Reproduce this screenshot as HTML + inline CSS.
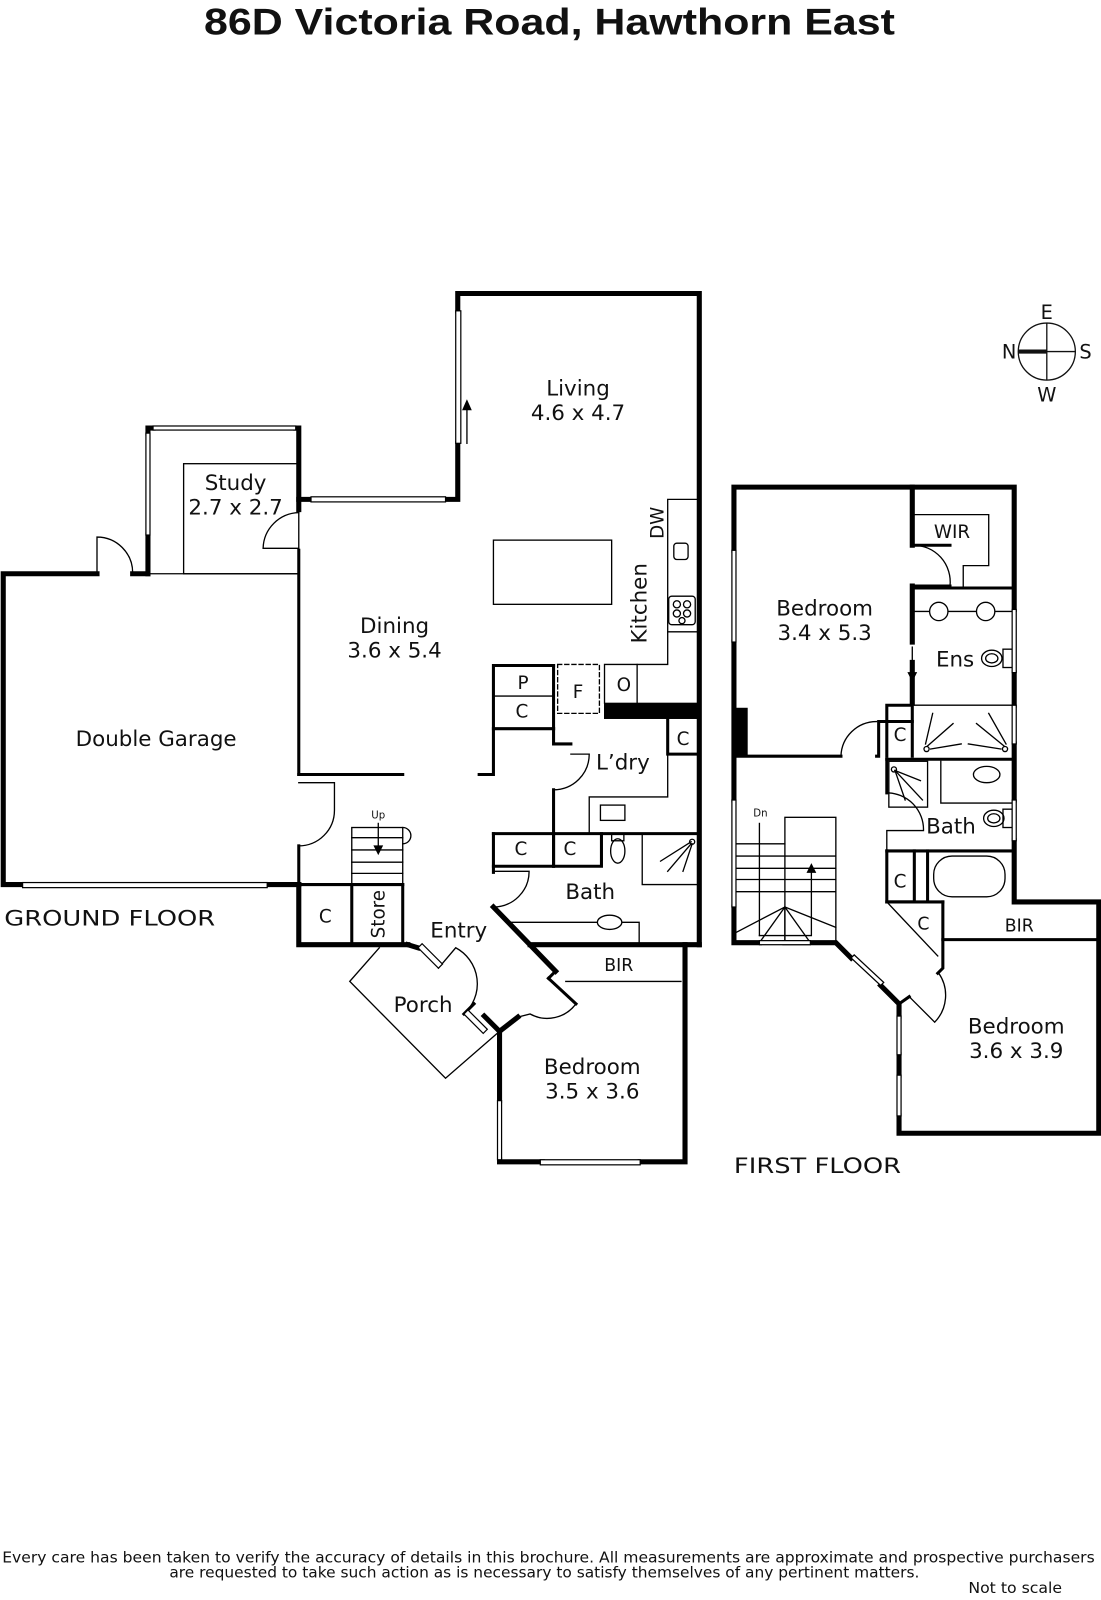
<!DOCTYPE html>
<html><head><meta charset="utf-8"><style>
html,body{margin:0;padding:0;background:#fff;}
svg{display:block;}
text{font-family:"DejaVu Sans","Liberation Sans",sans-serif;fill:#111;}
</style></head><body>
<svg width="1101" height="1600" viewBox="0 0 1080 1570" xmlns="http://www.w3.org/2000/svg">
<text x="539" y="34" font-size="36" font-weight="bold" text-anchor="middle" textLength="678" lengthAdjust="spacingAndGlyphs" style="font-family:'Liberation Sans',sans-serif">86D Victoria Road, Hawthorn East</text>

<g stroke="#111" fill="none" stroke-width="1.3">
<circle cx="1027" cy="345" r="28"/>
<line x1="1027" y1="317" x2="1027" y2="373"/>
<line x1="999" y1="345" x2="1055" y2="345"/>
<line x1="999" y1="345" x2="1027" y2="345" stroke-width="4"/>
</g>
<text x="1027" y="313" font-size="19" text-anchor="middle">E</text>
<text x="1027" y="394" font-size="19" text-anchor="middle">W</text>
<text x="990" y="352" font-size="19" text-anchor="middle">N</text>
<text x="1065" y="352" font-size="19" text-anchor="middle">S</text>

<!-- ============ GROUND FLOOR ============ -->
<g stroke="#000" fill="none" stroke-linecap="square">
<g stroke-width="5">
<polyline points="449,305 449,288 686,288 686,927"/>
<polyline points="449,435 449,490 437,490"/>
<polyline points="305,490 293,490"/>
<polyline points="150,420 145,420 145,425"/>
<polyline points="290,420 293,420 293,500"/>
<line x1="145" y1="525" x2="145" y2="563"/>
<polyline points="95,563 3,563 3,868 22,868"/>
<line x1="262" y1="868" x2="293" y2="868"/>
<line x1="130" y1="563" x2="145" y2="563"/>
<polyline points="293,868 293,927 400,927"/>
<line x1="686" y1="927" x2="520" y2="927"/>
<polyline points="484,890 545,953"/>
<polyline points="490,1012 475,997"/>
<polyline points="410,930 400,927"/>
<polyline points="490,1012 490,1080"/>
<polyline points="490,1138 490,1140 532,1140"/>
<polyline points="628,1140 672,1140 672,927"/>
<line x1="508" y1="998" x2="490" y2="1012"/>
</g>
<g stroke-width="3">
<polyline points="293,540 293,760"/>
<polyline points="293,830 293,868"/>
<line x1="293" y1="760" x2="395" y2="760"/>
<polyline points="470,760 484,760 484,653 543,653"/>
<line x1="543" y1="653" x2="543" y2="715"/>
<line x1="484" y1="715" x2="543" y2="715"/>
<polyline points="543,715 543,730 560,730"/>
<line x1="543" y1="775" x2="543" y2="850"/>
<line x1="484" y1="818" x2="686" y2="818"/>
<polyline points="484,818 484,850 590,850 590,818"/>
<line x1="543" y1="818" x2="543" y2="850"/>
<line x1="484" y1="850" x2="484" y2="856"/>
<polyline points="655,705 655,740 686,740"/>
<line x1="293" y1="868" x2="395" y2="868"/>
<line x1="345" y1="868" x2="345" y2="927"/>
<line x1="395" y1="868" x2="395" y2="927"/>
<line x1="545" y1="953" x2="538" y2="960"/>
<line x1="538" y1="960" x2="565" y2="985"/>
<polyline points="465,985 455,995"/>
</g>
<g stroke-width="1.3">
<rect x="180" y="455" width="113" height="108"/>
<line x1="145" y1="563" x2="293" y2="563"/>
<rect x="484" y="530" width="116" height="63"/>
<line x1="484" y1="683" x2="543" y2="683"/>
<rect x="547" y="652" width="41" height="48" stroke-dasharray="4,3"/>
<polyline points="593,690 593,652 655,652 655,620 686,620"/>
<line x1="625" y1="652" x2="625" y2="690"/>
<polyline points="655,620 655,490 686,490"/>
<rect x="661" y="533" width="14" height="16" rx="3"/>
<rect x="656" y="585" width="26" height="28" rx="3"/>
<circle cx="664" cy="593" r="3.5"/><circle cx="674" cy="593" r="3.5"/>
<circle cx="664" cy="602" r="3.5"/><circle cx="674" cy="602" r="3.5"/><circle cx="669" cy="609" r="3"/>
<polyline points="655,740 655,782 578,782 578,818"/>
<rect x="589" y="790" width="24" height="15"/>
<ellipse cx="606" cy="835" rx="7" ry="12"/>
<rect x="600" y="818" width="12" height="7"/>
<polyline points="686,868 630,868 630,818"/>
<polyline points="500,905 627,905 627,927"/>
<ellipse cx="598" cy="905" rx="12" ry="7" fill="#fff"/>
<line x1="555" y1="963" x2="668" y2="963"/>
<polyline points="372,930 343,963 437,1058 490,1012"/>
<path d="M95,563 V527 A35,35 0 0 1 130,562"/>
<path d="M293,503 A36,36 0 0 0 258,538 H293"/>
<path d="M293,830 A35,35 0 0 0 328,795 V768 H293"/>
<path d="M543,775 A35,35 0 0 0 578,740 H560"/>
<path d="M484,890 A35,35 0 0 0 519,855 H484"/>
<path d="M565,985 A35,35 0 0 1 520,995 L508,998"/>
<path d="M455,995 A40,40 0 0 0 447,930 L430,950"/>
<rect x="345" y="812" width="50" height="56"/>
<line x1="345" y1="822" x2="395" y2="822"/>
<line x1="345" y1="834" x2="395" y2="834"/>
<line x1="345" y1="846" x2="395" y2="846"/>
<line x1="345" y1="857" x2="395" y2="857"/>
<path d="M395,812 A8,8 0 0 1 395,828"/>
<line x1="371" y1="808" x2="371" y2="836"/>
<line x1="655" y1="855" x2="678" y2="828"/><line x1="648" y1="845" x2="678" y2="826"/><line x1="670" y1="855" x2="679" y2="828"/>
<circle cx="679" cy="826" r="2.5"/>
<line x1="458" y1="435" x2="458" y2="395"/>
</g>
<g fill="#fff" stroke="#000" stroke-width="1.2">
<rect x="447" y="305" width="5" height="130"/>
<rect x="305" y="487.5" width="132" height="5"/>
<rect x="150" y="418" width="140" height="4"/>
<rect x="143" y="425" width="4" height="100"/>
<rect x="22" y="866" width="240" height="5"/>
<rect x="530" y="1138" width="98" height="5"/>
<rect x="488" y="1080" width="4" height="58"/>
<polygon points="410,930 414,926 434,946 430,950"/>
<polygon points="455,995 459,991 478,1010 474,1014"/>
</g>
<rect x="593" y="690" width="93" height="15" fill="#000"/>
<polygon points="458,393 454,402 462,402" fill="#000"/>
<polygon points="371,838 367,830 375,830" fill="#000"/>
</g>

<g font-size="21" text-anchor="middle">
<text x="567" y="388">Living</text><text x="567" y="412">4.6 x 4.7</text>
<text x="231" y="481">Study</text><text x="231" y="505">2.7 x 2.7</text>
<text x="387" y="621">Dining</text><text x="387" y="645">3.6 x 5.4</text>
<text x="153" y="732">Double Garage</text>
<text x="611" y="755">L’dry</text>
<text x="579" y="882">Bath</text>
<text x="450" y="920">Entry</text>
<text x="415" y="993">Porch</text>
<text x="581" y="1054">Bedroom</text><text x="581" y="1078">3.5 x 3.6</text>
<text x="513" y="676" font-size="18">P</text>
<text x="512" y="704" font-size="18">C</text>
<text x="567" y="685" font-size="18">F</text>
<text x="612" y="678" font-size="18">O</text>
<text x="670" y="731" font-size="18">C</text>
<text x="511" y="839" font-size="18">C</text>
<text x="559" y="839" font-size="18">C</text>
<text x="319" y="905" font-size="18">C</text>
<text x="607" y="953" font-size="17">BIR</text>
<text x="371" y="803" font-size="10">Up</text>
</g>
<text transform="translate(634,592) rotate(-90)" font-size="21" text-anchor="middle">Kitchen</text>
<text transform="translate(651,513) rotate(-90)" font-size="18" text-anchor="middle">DW</text>
<text transform="translate(377,897) rotate(-90)" font-size="18" text-anchor="middle">Store</text>
<text x="4" y="908" font-size="21" textLength="207" lengthAdjust="spacingAndGlyphs">GROUND FLOOR</text>

<!-- ============ FIRST FLOOR ============ -->
<g stroke="#000" fill="none" stroke-linecap="square">
<g stroke-width="5">
<polyline points="720,540 720,478 995,478 995,598"/>
<line x1="720" y1="630" x2="720" y2="785"/>
<line x1="995" y1="660" x2="995" y2="692"/>
<line x1="995" y1="730" x2="995" y2="785"/>
<polyline points="995,825 995,885 1078,885 1078,1112 882,1112 882,1095"/>
<line x1="882" y1="1055" x2="882" y2="1035"/>
<polyline points="882,997 882,985 864,967"/>
<polyline points="835,940 820,925 770,925"/>
<polyline points="720,890 720,925 745,925"/>
<polyline points="895,478 895,535"/>
<line x1="895" y1="575" x2="895" y2="630"/>
<line x1="895" y1="650" x2="895" y2="690"/>
</g>
<g stroke-width="3">
<polyline points="720,742 825,742"/>
<polyline points="860,742 862,742 862,708 895,708"/>
<line x1="895" y1="577" x2="995" y2="577"/>
<polyline points="870,742 870,692 895,692 895,742"/>
<line x1="870" y1="745" x2="995" y2="745"/>
<line x1="870" y1="745" x2="870" y2="778"/>
<line x1="870" y1="835" x2="995" y2="835"/>
<polyline points="870,835 870,885 897,885 897,835"/>
<line x1="910" y1="835" x2="910" y2="885"/>
<line x1="870" y1="885" x2="925" y2="885"/>
<polyline points="925,885 925,950 920,955"/>
<line x1="925" y1="922" x2="1078" y2="922"/>
<line x1="896" y1="535" x2="932" y2="535"/>
<line x1="896" y1="575" x2="932" y2="575"/>
<line x1="882" y1="985" x2="892" y2="978"/>
</g>
<g stroke-width="1.3">
<polyline points="897,505 970,505 970,555 945,555 945,577"/>
<path d="M896,535 A36,36 0 0 1 932,575"/>
<line x1="897" y1="600" x2="995" y2="600"/>
<circle cx="921" cy="600" r="9" fill="#fff"/><circle cx="967" cy="600" r="9" fill="#fff"/>
<ellipse cx="973" cy="646" rx="10" ry="8"/><ellipse cx="973" cy="646" rx="6" ry="4.5"/>
<rect x="984" y="637" width="9" height="18"/>
<line x1="895" y1="635" x2="895" y2="662"/>
<line x1="897" y1="692" x2="995" y2="692"/>
<line x1="915" y1="700" x2="908" y2="730"/><line x1="935" y1="710" x2="910" y2="732"/><line x1="943" y1="730" x2="913" y2="735"/>
<line x1="970" y1="700" x2="987" y2="730"/><line x1="958" y1="710" x2="985" y2="732"/><line x1="950" y1="730" x2="982" y2="735"/>
<circle cx="909" cy="735" r="2.5"/><circle cx="986" cy="735" r="2.5"/>
<path d="M825,742 A35,35 0 0 1 860,708"/>
<rect x="872" y="747" width="38" height="45"/>
<line x1="878" y1="756" x2="905" y2="785"/><line x1="878" y1="756" x2="903" y2="766"/><line x1="878" y1="756" x2="888" y2="785"/>
<circle cx="877" cy="755" r="2.5"/>
<polyline points="923,747 923,788 995,788"/>
<ellipse cx="968" cy="760" rx="13" ry="8"/>
<ellipse cx="975" cy="803" rx="10" ry="8"/><ellipse cx="975" cy="803" rx="6" ry="4.5"/>
<rect x="984" y="794" width="9" height="18"/>
<path d="M870,778 A36,36 0 0 1 906,815 H870 V835"/>
<rect x="916" y="840" width="70" height="40" rx="18"/>
<line x1="870" y1="885" x2="920" y2="938"/>
<path d="M892,978 L917,1003 A38,38 0 0 0 921,955"/>
<polyline points="722,828 770,828"/>
<rect x="770" y="802" width="50" height="123"/>
<line x1="722" y1="840" x2="820" y2="840"/><line x1="722" y1="852" x2="820" y2="852"/>
<line x1="722" y1="863" x2="820" y2="863"/><line x1="722" y1="875" x2="820" y2="875"/>
<line x1="745" y1="808" x2="745" y2="918"/>
<polyline points="745,918 796,918 796,852"/>
<line x1="770" y1="890" x2="722" y2="915"/><line x1="770" y1="890" x2="745" y2="925"/><line x1="770" y1="890" x2="770" y2="925"/>
<line x1="770" y1="890" x2="795" y2="925"/><line x1="770" y1="890" x2="820" y2="910"/>
</g>
<g fill="#fff" stroke="#000" stroke-width="1.2">
<rect x="718" y="540" width="4" height="90"/>
<rect x="718" y="785" width="4" height="105"/>
<rect x="993" y="598" width="4" height="62"/>
<rect x="993" y="692" width="4" height="38"/>
<rect x="993" y="785" width="4" height="40"/>
<rect x="745" y="923" width="50" height="4"/>
<rect x="880" y="997" width="4" height="38"/>
<rect x="880" y="1055" width="4" height="40"/>
<polygon points="835,940 838,937 867,964 864,967"/>
</g>
<rect x="720" y="695" width="13" height="47" fill="#000"/>
<polygon points="796,848 792,856 800,856" fill="#000"/>
<polygon points="895,668 891,660 899,660" fill="#000"/>
</g>

<g font-size="21" text-anchor="middle">
<text x="809" y="604">Bedroom</text><text x="809" y="628">3.4 x 5.3</text>
<text x="937" y="654">Ens</text>
<text x="933" y="818">Bath</text>
<text x="997" y="1014">Bedroom</text><text x="997" y="1038">3.6 x 3.9</text>
<text x="934" y="528" font-size="18">WIR</text>
<text x="883" y="727" font-size="18">C</text>
<text x="883" y="871" font-size="18">C</text>
<text x="906" y="912" font-size="17">C</text>
<text x="1000" y="914" font-size="17">BIR</text>
<text x="746" y="801" font-size="10">Dn</text>
</g>
<text x="720" y="1151" font-size="21" textLength="164" lengthAdjust="spacingAndGlyphs">FIRST FLOOR</text>

<g font-size="14.5" text-anchor="middle" style="font-family:'Liberation Sans',sans-serif">
<text x="538" y="1533" textLength="1072" lengthAdjust="spacingAndGlyphs">Every care has been taken to verify the accuracy of details in this brochure.  All measurements are approximate and prospective purchasers</text>
<text x="534" y="1548" textLength="736" lengthAdjust="spacingAndGlyphs">are requested to take such action as is necessary to satisfy themselves of any pertinent matters.</text>
<text x="996" y="1563" textLength="92" lengthAdjust="spacingAndGlyphs">Not to scale</text>
</g>
</svg>
</body></html>
